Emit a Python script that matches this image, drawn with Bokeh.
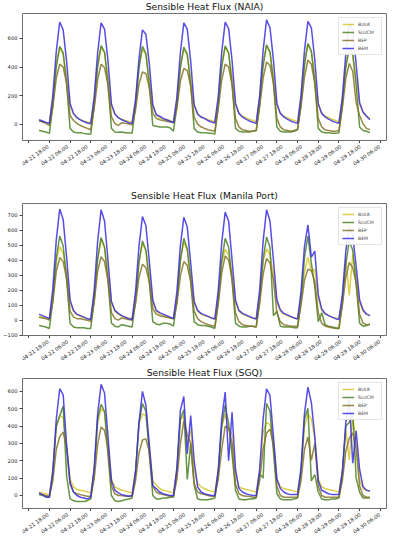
import numpy as np
import pandas as pd
from bokeh.plotting import figure
from bokeh.layouts import column
from bokeh.models import Range1d, FixedTicker, Legend, LegendItem
from bokeh.core.properties import value
from bokeh.embed import file_html
from bokeh.resources import INLINE

# ---------------- data (2-hourly, 04-22 00:00 .. 04-30 00:00) ----------------
TIME = pd.date_range("2019-04-22 00:00", "2019-04-30 00:00", freq="2h")
TICKS = pd.date_range("2019-04-21 18:00", "2019-04-30 06:00", freq="12h")
TICK_LABELS = [t.strftime("%m-%d %H:%M") for t in TICKS]
SERIES = ["BULK", "SLUCM", "BEP", "BEM"]

# NAIA
NAIA_BULK = [20, 18, 12, 10, 175, 435, 535, 490, 330, 130, 70, 45,
             30, 20, 15, 10, 175, 435, 540, 500, 330, 130, 70, 45,
             35, 25, 18, 12, 165, 415, 525, 485, 320, 130, 65, 45,
             35, 30, 25, 15, 175, 425, 525, 485, 320, 130, 70, 50,
             40, 30, 25, 15, 175, 435, 540, 495, 330, 135, 75, 55,
             45, 35, 25, 15, 180, 440, 550, 505, 335, 135, 75, 55,
             45, 35, 25, 15, 185, 445, 560, 510, 340, 135, 75, 55,
             45, 35, 25, 15, 175, 430, 530, 490, 320, 140, 80, 55,
             40]
NAIA_SLUCM = [-45, -50, -55, -65, 130, 400, 545, 500, 280, -30, -55, -60,
              -60, -65, -70, -70, 130, 400, 550, 505, 280, -30, -55, -58,
              -55, -60, -60, -65, 125, 390, 545, 495, 270, -10, -15, -20,
              -20, -20, -25, -50, 125, 390, 540, 490, 270, -30, -55, -60,
              -60, -62, -65, -70, 130, 400, 548, 500, 280, -30, -50, -55,
              -55, -55, -50, -45, 135, 405, 555, 505, 290, -20, -50, -55,
              -55, -55, -50, -40, 140, 410, 565, 510, 290, -30, -55, -60,
              -60, -65, -65, -60, 130, 395, 535, 490, 270, -20, -45, -50,
              -60]
NAIA_BEP = [25, 15, 5, -10, 120, 320, 420, 400, 285, 60, 25, 5,
            -10, -20, -30, -40, 110, 310, 420, 395, 275, 50, 5, -10,
            10, 5, 0, -5, 100, 280, 365, 355, 255, 75, 40, 30,
            25, 20, 15, 10, 110, 300, 390, 375, 265, 50, 0, -20,
            -30, -40, -45, -50, 110, 310, 420, 400, 275, 40, -20, -40,
            -45, -50, -50, -45, 120, 320, 435, 410, 285, 40, -20, -40,
            -45, -50, -45, -35, 120, 330, 450, 420, 285, 40, -20, -40,
            -45, -50, -50, -45, 115, 320, 425, 370, 150, 60, 0, -30,
            -40]
NAIA_BEM = [30, 22, 12, 5, 200, 510, 715, 660, 440, 145, 75, 45,
            30, 18, 8, 3, 190, 500, 710, 665, 445, 140, 70, 45,
            30, 20, 10, 5, 170, 460, 660, 630, 420, 135, 65, 55,
            40, 30, 20, 10, 190, 500, 710, 665, 440, 135, 70, 50,
            40, 25, 15, 8, 195, 505, 715, 670, 445, 145, 75, 50,
            35, 22, 12, 5, 200, 515, 730, 675, 450, 145, 75, 50,
            35, 22, 12, 5, 200, 515, 720, 675, 450, 145, 75, 50,
            35, 22, 12, 5, 190, 495, 710, 655, 420, 150, 85, 55,
            30]

# Manila Port
PORT_BULK = [25, 20, 15, 5, 155, 395, 490, 445, 325, 120, 60, 35,
             25, 20, 10, 5, 165, 415, 540, 485, 325, 120, 60, 40,
             25, 20, 15, 5, 155, 395, 510, 465, 315, 120, 60, 40,
             30, 25, 15, 10, 155, 405, 520, 465, 315, 120, 60, 40,
             30, 25, 15, 10, 155, 385, 472, 435, 305, 120, 60, 40,
             30, 20, 15, 10, 155, 395, 475, 435, 305, 120, 60, 40,
             30, 20, 15, 10, 145, 320, 420, 320, 340, 145, 65, 40,
             30, 20, 15, 10, 135, 415, 165, 435, 305, 120, 60, 40,
             30]
PORT_SLUCM = [-35, -40, -45, -55, 135, 415, 560, 495, 270, -20, -45, -50,
              -50, -50, -55, -55, 130, 405, 550, 485, 260, -20, -40, -45,
              -30, -35, -40, -45, 125, 385, 528, 465, 250, -10, -25, -30,
              -20, -20, -25, -40, 125, 395, 545, 475, 260, -10, -30, -35,
              -35, -40, -45, -55, 125, 395, 545, 485, 260, -20, -40, -45,
              -45, -40, -40, -45, 130, 405, 554, 485, 30, 60, -40, -45,
              -45, -45, -50, -50, 125, 415, 560, 380, 220, -10, 50, -30,
              -40, -45, -50, -55, 115, 375, 528, 465, 240, -20, -40, -35,
              -25]
PORT_BEP = [20, 15, 10, 0, 120, 325, 417, 390, 275, 60, 20, 10,
            10, 5, 0, -10, 120, 325, 423, 390, 265, 50, 10, 0,
            15, 10, 5, 0, 110, 285, 373, 350, 255, 75, 40, 30,
            25, 20, 15, 10, 110, 295, 390, 365, 255, 60, 10, -10,
            -20, -30, -35, -40, 110, 315, 428, 400, 275, 50, -10, -30,
            -35, -40, -40, -45, 110, 305, 412, 380, 265, 50, -10, -30,
            -35, -40, -40, -40, 100, 265, 340, 330, 255, 50, -20, -40,
            -45, -50, -55, -55, 100, 285, 384, 350, 245, 40, -20, -30,
            -30]
PORT_BEM = [40, 30, 20, 10, 210, 535, 740, 670, 420, 135, 65, 40,
            30, 20, 10, 5, 200, 525, 735, 660, 400, 125, 65, 45,
            30, 20, 10, 5, 190, 495, 690, 630, 390, 135, 65, 50,
            40, 30, 20, 10, 190, 495, 685, 620, 380, 125, 65, 45,
            35, 25, 15, 8, 200, 515, 720, 660, 400, 135, 65, 45,
            35, 25, 15, 8, 200, 525, 735, 660, 400, 135, 70, 45,
            35, 25, 15, 8, 190, 490, 635, 420, 460, 170, 75, 45,
            30, 20, 10, 5, 170, 460, 620, 560, 360, 135, 70, 40,
            30]

# SGQ
SGQ_BULK = [20, 15, 10, 5, 145, 395, 460, 450, 285, 95, 50, 35,
            30, 25, 20, 15, 145, 415, 500, 480, 305, 95, 50, 40,
            30, 25, 20, 15, 145, 415, 470, 460, 285, 85, 60, 40,
            30, 25, 20, 15, 155, 435, 460, 300, 380, 150, 70, 50,
            40, 30, 25, 20, 145, 395, 470, 390, 350, 110, 50, 40,
            35, 30, 25, 20, 135, 365, 420, 410, 310, 95, 50, 40,
            35, 30, 25, 20, 135, 395, 470, 440, 330, 95, 50, 40,
            35, 30, 25, 20, 135, 380, 205, 460, 300, 90, 40, 30,
            25]
SGQ_SLUCM = [5, 0, -5, -10, 125, 400, 460, 515, 110, -20, -30, -35,
             -35, -35, -30, -20, 135, 440, 525, 485, 235, 0, -30, -35,
             -30, -25, -20, -15, 125, 420, 530, 485, 235, 0, -20, -20,
             -15, -15, -10, -10, 135, 440, 494, 93, 300, 60, -20, -25,
             -25, -25, -20, -15, 125, 400, 520, 415, 235, 30, -20, -25,
             -25, -20, -20, -15, 125, 100, 531, 485, 255, 10, -20, -25,
             -25, -25, -20, -15, 135, 440, 503, 84, 120, 20, -20, -25,
             -25, -20, -20, -15, 125, 400, 420, 475, 100, 20, -15, -15,
             -15]
SGQ_BEP = [10, 5, 0, -5, 85, 265, 340, 365, 270, 65, 20, 10,
           5, 0, -5, -5, 95, 295, 395, 375, 265, 55, 10, 0,
           0, -5, -5, -5, 85, 245, 320, 326, 250, 55, 20, 10,
           5, 0, -5, -5, 95, 295, 430, 350, 300, 70, 20, 10,
           5, 0, -5, -5, 95, 265, 400, 385, 300, 65, 10, 0,
           -5, -5, -10, -10, 85, 265, 360, 382, 290, 55, 0, -10,
           -10, -10, -10, -10, 85, 265, 337, 203, 300, 55, 0, -10,
           -10, -10, -10, -10, 85, 255, 330, 360, 270, 55, 0, -10,
           -10]
SGQ_BEM = [15, 5, -10, -10, 140, 440, 615, 580, 290, 75, 20, 0,
           -10, -15, -20, -10, 160, 470, 640, 590, 340, 85, 30, 15,
           5, 0, -5, 0, 140, 420, 600, 520, 290, 55, 40, 20,
           10, 5, 0, 0, 160, 490, 570, 240, 460, 200, 50, 20,
           10, 5, 0, 0, 150, 440, 596, 200, 480, 150, 40, 20,
           10, 5, 0, 0, 150, 440, 615, 575, 340, 95, 40, 20,
           10, 5, 5, 5, 160, 470, 624, 535, 340, 85, 30, 20,
           10, 5, 5, 5, 140, 420, 559, 186, 372, 150, 50, 30,
           25]

TITLES = ["Sensible Heat Flux (NAIA)", "Sensible Heat Flux (Manila Port)",
          "Sensible Heat Flux (SGQ)"]
PANEL_DATA = [[NAIA_BULK, NAIA_SLUCM, NAIA_BEP, NAIA_BEM],
              [PORT_BULK, PORT_SLUCM, PORT_BEP, PORT_BEM],
              [SGQ_BULK, SGQ_SLUCM, SGQ_BEP, SGQ_BEM]]
Y_RANGES = [(-115, 775), (-102, 777), (-75, 674)]
Y_TICKS = [[0, 200, 400, 600],
           [-100, 0, 100, 200, 300, 400, 500, 600, 700],
           [0, 100, 200, 300, 400, 500, 600]]

COLORS = ["#d8c62c", "#4a8224", "#857328", "#3a2ee0"]
FONT = "DejaVu Sans"
W = 387
BL, BR = 22, 1          # plot frame borders (left / right)
# per panel: (title strip h, title y from strip top, title baseline, plot h, tick-label strip h)
LAYOUT = [(12, 0.5, "top", 131, 29), (30, 23, "middle", 136, 23), (16, 11, "middle", 134, 23)]

tick_ms = (TICKS.astype("int64") // 10**6).tolist()
x0 = pd.Timestamp("2019-04-21 14:24")
x1 = pd.Timestamp("2019-04-30 09:36")
x_range = Range1d(x0, x1)
# the label strip spans the full width; extend its range so that it maps time exactly like the plots
ms_per_px = (x1 - x0).total_seconds() * 1000 / (W - BL - BR)
label_range = Range1d(x0.value // 10**6 - BL * ms_per_px, x1.value // 10**6)


def strip(h, xr, left):
    s = figure(width=W, height=h, x_range=xr, y_range=Range1d(-h, 0),
               output_backend="svg", toolbar_location=None,
               x_axis_location=None, y_axis_location=None,
               min_border_left=left, min_border_right=BR, min_border_top=0, min_border_bottom=0)
    s.outline_line_color = None
    s.grid.visible = False
    s.background_fill_color = "white"
    s.border_fill_color = "white"
    return s


rows = []
for title, data, yr, yt, (th, ty, tb, ph, lh) in zip(TITLES, PANEL_DATA, Y_RANGES, Y_TICKS, LAYOUT):
    # title
    t = strip(th, Range1d(0, 1), BL)
    t.text(x=[0.5], y=[-ty], text=[title], text_align="center", text_baseline=tb,
           text_font=value(FONT), text_font_size="9.2px", text_color="#111111")
    rows.append(t)

    # plot
    p = figure(width=W, height=ph, x_axis_type="datetime", x_range=x_range,
               y_range=Range1d(*yr), output_backend="svg", toolbar_location=None,
               min_border_left=BL, min_border_right=BR, min_border_top=1, min_border_bottom=3)
    p.xgrid.visible = False
    p.ygrid.visible = False
    p.outline_line_color = "#707070"
    p.outline_line_width = 1
    p.background_fill_color = "white"
    p.border_fill_color = "white"

    renderers = []
    for name, vals, col in zip(SERIES, data, COLORS):
        r = p.line(TIME, vals, line_color=col, line_width=1.5, line_alpha=0.85)
        renderers.append(r)

    for ax in (p.xaxis[0], p.yaxis[0]):
        ax.axis_line_color = None
        ax.major_tick_line_color = "#444444"
        ax.major_tick_out = 3
        ax.major_tick_in = 0
        ax.minor_tick_line_color = None
    p.yaxis.major_label_text_font = FONT
    p.yaxis.major_label_text_font_size = "5.2px"
    p.yaxis.major_label_text_color = "#222222"
    p.yaxis.major_label_standoff = 2
    p.yaxis.ticker = FixedTicker(ticks=yt)
    p.xaxis.ticker = FixedTicker(ticks=tick_ms)
    p.xaxis.major_label_text_font_size = "0px"
    p.xaxis.major_label_text_color = None
    p.xaxis.major_label_standoff = 0

    legend = Legend(items=[LegendItem(label=n, renderers=[r]) for n, r in zip(SERIES, renderers)],
                    location="top_right")
    legend.label_text_font = FONT
    legend.label_text_font_size = "4.6px"
    legend.label_height = 6
    legend.glyph_height = 6
    legend.glyph_width = 12
    legend.spacing = 2
    legend.padding = 3
    legend.margin = 4
    legend.label_standoff = 4
    legend.border_line_color = "#cccccc"
    legend.border_line_width = 0.7
    legend.background_fill_alpha = 0.9
    p.add_layout(legend)
    rows.append(p)

    # rotated x tick labels, placed on the same time scale as the plot above
    s = strip(lh, label_range, 0)
    s.text(x=tick_ms, y=[-2.5] * len(tick_ms), text=TICK_LABELS, angle=0.61,
           x_offset=-1, text_align="right", text_baseline="middle",
           text_font=value(FONT), text_font_size="5.2px", text_color="#222222")
    rows.append(s)

layout = column(*rows, spacing=0)
open("out.html", "w").write(file_html(layout, INLINE))
